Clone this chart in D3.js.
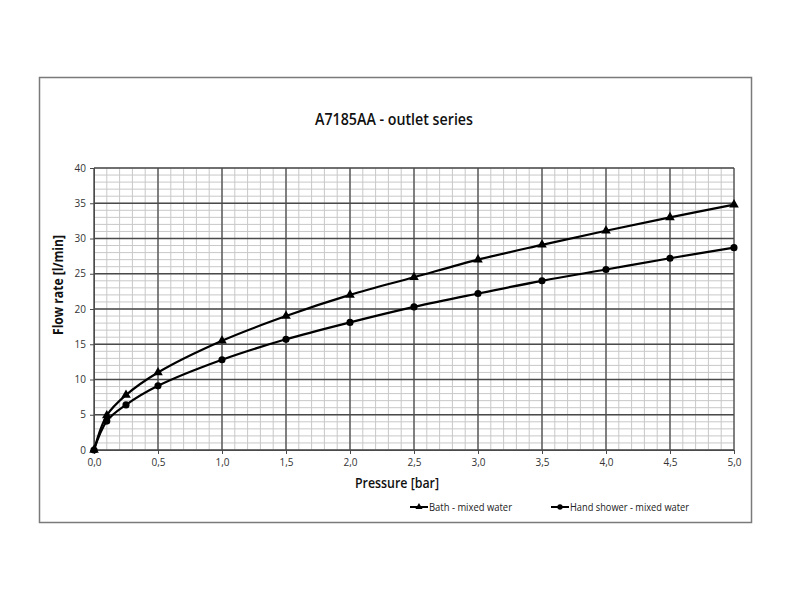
<!DOCTYPE html>
<html><head><meta charset="utf-8">
<script src="https://cdn.jsdelivr.net/npm/d3@7"></script>
<style>body{margin:0;background:#fff}svg{display:block}</style>
</head><body>
<script>
const pressure = [0, 0.1, 0.25, 0.5, 1.0, 1.5, 2.0, 2.5, 3.0, 3.5, 4.0, 4.5, 5.0];
const bath = [0, 4.9, 7.8, 11.0, 15.5, 19.0, 22.0, 24.5, 27.0, 29.1, 31.1, 33.0, 34.8];
const handShower = [0, 4.1, 6.4, 9.1, 12.8, 15.7, 18.1, 20.3, 22.2, 24.0, 25.6, 27.2, 28.7];
const xTicks = [0, 0.5, 1.0, 1.5, 2.0, 2.5, 3.0, 3.5, 4.0, 4.5, 5.0];
const yTicks = [0, 5, 10, 15, 20, 25, 30, 35, 40];
const seriesNames = ["Bath - mixed water", "Hand shower - mixed water"];

const W = 800, H = 600;
const svg = d3.select("body").append("svg").attr("width", W).attr("height", H);
svg.append("rect").attr("width", W).attr("height", H).attr("fill", "#fff");
svg.append("rect").attr("x", 39.5).attr("y", 77.5).attr("width", 712).attr("height", 445)
  .attr("fill", "none").attr("stroke", "#7a7a7a").attr("stroke-width", 1.5);

const font = "'Open Sans', sans-serif";
const x = d3.scaleLinear().domain([0, 5]).range([94, 734]);
const y = d3.scaleLinear().domain([0, 40]).range([450, 168]);

const g = svg.append("g");
// minor grid
const minorX = d3.range(0, 5.0001, 0.1).map(v => +v.toFixed(2));
const minorY = d3.range(0, 40.0001, 1);
g.selectAll(".mx").data(minorX).enter().append("line")
  .attr("x1", d => x(d)).attr("x2", d => x(d)).attr("y1", y(0)).attr("y2", y(40))
  .attr("stroke", "#c8c8c8").attr("stroke-width", 1);
g.selectAll(".my").data(minorY).enter().append("line")
  .attr("y1", d => y(d)).attr("y2", d => y(d)).attr("x1", x(0)).attr("x2", x(5))
  .attr("stroke", "#c8c8c8").attr("stroke-width", 1);
// major grid
g.selectAll(".Mx").data(xTicks).enter().append("line")
  .attr("x1", d => x(d)).attr("x2", d => x(d)).attr("y1", y(0)).attr("y2", y(40))
  .attr("stroke", "#4a4a4a").attr("stroke-width", 1.3);
g.selectAll(".My").data(yTicks).enter().append("line")
  .attr("y1", d => y(d)).attr("y2", d => y(d)).attr("x1", x(0)).attr("x2", x(5))
  .attr("stroke", "#4a4a4a").attr("stroke-width", 1.3);

// axes
const xAxis = d3.axisBottom(x).tickValues(xTicks).tickSize(4).tickFormat(d => d3.format(".1f")(d).replace(".", ","));
const ax = svg.append("g").attr("transform", `translate(0,${y(0)})`).call(xAxis);
ax.select(".domain").attr("stroke", "#4a4a4a");
ax.selectAll(".tick line").attr("stroke", "#4a4a4a");
ax.selectAll("text").attr("font-family", font).attr("font-size", 10).attr("fill", "#333").attr("dy", "0.9em");
const yAxis = d3.axisLeft(y).tickValues(yTicks).tickSize(4);
const ay = svg.append("g").attr("transform", `translate(${x(0)},0)`).call(yAxis);
ay.select(".domain").attr("stroke", "#4a4a4a");
ay.selectAll(".tick line").attr("stroke", "#4a4a4a");
ay.selectAll("text").attr("font-family", font).attr("font-size", 10).attr("fill", "#333").attr("x", -8);

// lines
const line = d3.line().x(d => x(d[0])).y(d => y(d[1])).curve(d3.curveCatmullRom.alpha(0.5));
const bathData = pressure.map((p, i) => [p, bath[i]]);
const handData = pressure.map((p, i) => [p, handShower[i]]);
svg.append("path").datum(bathData).attr("d", line).attr("fill", "none").attr("stroke", "#000").attr("stroke-width", 2.2);
svg.append("path").datum(handData).attr("d", line).attr("fill", "none").attr("stroke", "#000").attr("stroke-width", 2.2);
const tri = d3.symbol().type(d3.symbolTriangle).size(40);
const circ = d3.symbol().type(d3.symbolCircle).size(40);
svg.selectAll(".tb").data(bathData).enter().append("path").attr("d", tri)
  .attr("transform", d => `translate(${x(d[0])},${y(d[1])})`).attr("fill", "#000");
svg.selectAll(".ch").data(handData).enter().append("path").attr("d", circ)
  .attr("transform", d => `translate(${x(d[0])},${y(d[1])})`).attr("fill", "#000");

// titles
svg.append("text").attr("x", 315).attr("y", 125)
  .attr("font-family", font).attr("font-weight", 600).attr("font-size", 17).attr("fill", "#111")
  .attr("textLength", 158).attr("lengthAdjust", "spacingAndGlyphs")
  .text("A7185AA - outlet series");
svg.append("text").attr("x", 355).attr("y", 488)
  .attr("font-family", font).attr("font-weight", 600).attr("font-size", 14).attr("fill", "#111")
  .attr("textLength", 84).attr("lengthAdjust", "spacingAndGlyphs")
  .text("Pressure [bar]");
svg.append("text").attr("transform", "translate(63,335) rotate(-90)")
  .attr("font-family", font).attr("font-weight", "bold").attr("font-size", 14).attr("fill", "#111")
  .attr("textLength", 100).attr("lengthAdjust", "spacingAndGlyphs")
  .text("Flow rate [l/min]");

// legend
const leg = [{x0: 410, w: 83, name: seriesNames[0], sym: tri}, {x0: 551, w: 119, name: seriesNames[1], sym: circ}];
leg.forEach(l => {
  svg.append("line").attr("x1", l.x0).attr("x2", l.x0 + 18).attr("y1", 507).attr("y2", 507).attr("stroke", "#000").attr("stroke-width", 2);
  svg.append("path").attr("d", l.sym.size(22)()).attr("transform", `translate(${l.x0 + 9},507)`).attr("fill", "#000");
  svg.append("text").attr("x", l.x0 + 19).attr("y", 511).attr("font-family", font).attr("font-size", 11).attr("fill", "#222")
    .attr("textLength", l.w).attr("lengthAdjust", "spacingAndGlyphs").text(l.name);
});
</script>
</body></html>
